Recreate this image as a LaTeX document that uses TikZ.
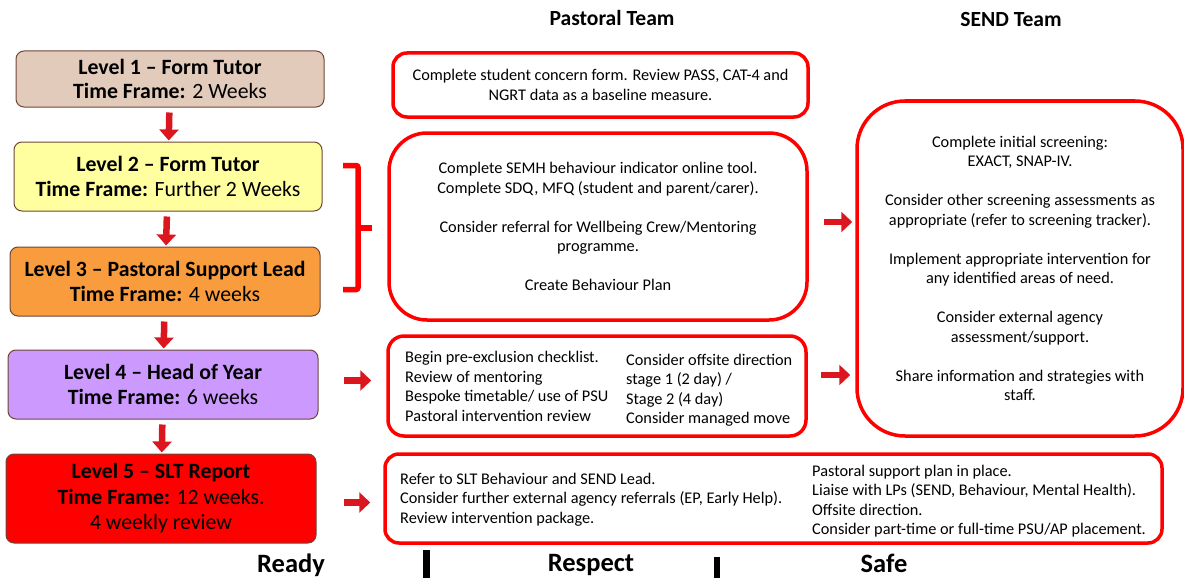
\documentclass[tikz,border=0pt]{standalone}
\usepackage{fontspec}
\setmainfont{Carlito}
\usepackage{xcolor}
\usepackage{tikz}
\usetikzlibrary{arrows.meta, positioning}

\definecolor{boxedge}{RGB}{110,70,55}
\definecolor{tanfill}{RGB}{226,203,187}
\definecolor{yellowfill}{RGB}{255,255,160}
\definecolor{orangefill}{RGB}{248,156,62}
\definecolor{purplefill}{RGB}{204,153,255}
\definecolor{redfill}{RGB}{255,0,0}
\definecolor{teamred}{RGB}{255,0,0}
\definecolor{arrowred}{RGB}{220,22,30}

\newcommand{\levelfont}{\fontsize{21.8}{24.5}\selectfont}
\newcommand{\bodyfont}{\fontsize{16.3}{19.5}\selectfont}
\newcommand{\headfont}{\fontsize{21.6}{24}\selectfont\bfseries}
\newcommand{\valuefont}{\fontsize{26.5}{30}\selectfont\bfseries}

\begin{document}
\begin{tikzpicture}[x=1pt, y=-1pt,
    level/.style={draw=boxedge, line width=1pt, rounded corners=8pt, align=center, inner sep=0pt, font=\levelfont},
    team/.style={draw=teamred, line width=3.5pt, align=center, inner sep=0pt, font=\bodyfont},
    column/.style={align=left, inner sep=0pt, font=\bodyfont, anchor=west},
    down/.style={draw=arrowred, line width=6.5pt, -{Triangle[width=19pt,length=11pt]}, shorten <=5pt, shorten >=1pt},
    right/.style={draw=arrowred, line width=6.5pt, -{Triangle[width=20pt,length=11pt]}}
  ]
    \useasboundingbox (0,0) rectangle (1184,578);

    % Column headings
    \node[font=\headfont, anchor=base] (pastoral) at (612,26) {Pastoral Team};
    \node[font=\headfont, anchor=base] (send) at (1011,27) {SEND Team};

    % Levels
    \node[level, fill=tanfill, minimum width=308pt, minimum height=56pt] (l1) at (170,79)
        {\textbf{Level 1 – Form Tutor}\\\textbf{Time Frame:} 2 Weeks};
    \node[level, fill=yellowfill, minimum width=308pt, minimum height=69pt] (l2) at (168,176.5)
        {\textbf{Level 2 – Form Tutor}\\\textbf{Time Frame:} Further 2 Weeks};
    \node[level, fill=orangefill, minimum width=310pt, minimum height=69pt] (l3) at (165,281.5)
        {\textbf{Level 3 – Pastoral Support Lead}\\\textbf{Time Frame:} 4 weeks};
    \node[level, fill=purplefill, minimum width=310pt, minimum height=69pt] (l4) at (163,384.5)
        {\textbf{Level 4 – Head of Year}\\\textbf{Time Frame:} 6 weeks};
    \node[level, fill=redfill, minimum width=310pt, minimum height=89pt, font=\fontsize{21.8}{25.5}\selectfont] (l5) at (161,498.5)
        {\textbf{Level 5 – SLT Report}\\\textbf{Time Frame:} 12 weeks.\\4 weekly review};

    \draw[down] (l1) -- (l2);
    \draw[down] (l2) -- (l3);
    \draw[down] (l3) -- (l4);
    \draw[down] (l4) -- (l5);

    % Pastoral team boxes
    \node[team, rounded corners=14pt, minimum width=415pt, minimum height=64pt] (p1) at (600.5,85)
        {Complete student concern form. Review PASS, CAT-4 and\\NGRT data as a baseline measure.};
    \node[team, rounded corners=38pt, minimum width=418pt, minimum height=187pt] (p2) at (598,226.5)
        {Complete SEMH behaviour indicator online tool.\\Complete SDQ, MFQ (student and parent/carer).\\[19.5pt]
         Consider referral for Wellbeing Crew/Mentoring\\programme.\\[19.5pt]Create Behaviour Plan};
    \node[team, rounded corners=16pt, minimum width=418pt, minimum height=100pt] (p3) at (597,386) {};
    \node[column] (p3a) at (405,386.5)
        {Begin pre-exclusion checklist.\\Review of mentoring\\Bespoke timetable/ use of PSU\\Pastoral intervention review};
    \node[column] (p3b) at (626,390)
        {Consider offsite direction\\stage 1 (2 day) /\\Stage 2 (4 day)\\Consider managed move};
    \node[team, rounded corners=14pt, minimum width=777pt, minimum height=89pt] (p5) at (773.5,498.5) {};
    \node[column] (p5a) at (400,499.5)
        {Refer to SLT Behaviour and SEND Lead.\\Consider further external agency referrals (EP, Early Help).\\Review intervention package.};
    \node[column] (p5b) at (812,501)
        {Pastoral support plan in place.\\Liaise with LPs (SEND, Behaviour, Mental Health).\\Offsite direction.\\Consider part-time or full-time PSU/AP placement.};

    % SEND team box
    \node[team, rounded corners=48pt, minimum width=326pt, minimum height=335pt] (s1) at (1020,268.5)
        {Complete initial screening:\\EXACT, SNAP-IV.\\[19.5pt]
         Consider other screening assessments as\\appropriate (refer to screening tracker).\\[19.5pt]
         Implement appropriate intervention for\\any identified areas of need.\\[19.5pt]
         Consider external agency\\assessment/support.\\[19.5pt]
         Share information and strategies with\\staff.};

    % Bracket for levels 2 and 3
    \draw[teamred, line width=5.5pt, rounded corners=2pt] (343,165.5) -- (358,165.5) -- (358,289.5) -- (343,289.5);
    \draw[teamred, line width=5.5pt] (358,228) -- (372,228);

    % Arrows across
    \draw[right] ([xshift=25pt,yshift=4pt]l4.east) -- ([xshift=-15pt,yshift=4pt]l4.east -| p3.west);
    \draw[right] ([xshift=27pt,yshift=-4pt]l5.east) -- ([xshift=-13pt,yshift=-4pt]l5.east -| p5.west);
    \draw[right] ([xshift=15pt,yshift=4.5pt]p2.east) -- ([xshift=-3pt,yshift=4.5pt]p2.east -| s1.west);
    \draw[right] ([xshift=13pt,yshift=11pt]p3.east) -- ([xshift=-5pt,yshift=11pt]p3.east -| s1.west);

    % Values along the bottom
    \node[font=\valuefont, anchor=base] (ready) at (291,572) {Ready};
    \node[font=\valuefont, anchor=base] (respect) at (591,571) {Respect};
    \node[font=\valuefont, anchor=base] (safe) at (884,572) {Safe};
    \draw[line width=6.5pt] (426.5,550) -- (426.5,578);
    \draw[line width=6.5pt] (717,557) -- (717,578);
\end{tikzpicture}
\end{document}
